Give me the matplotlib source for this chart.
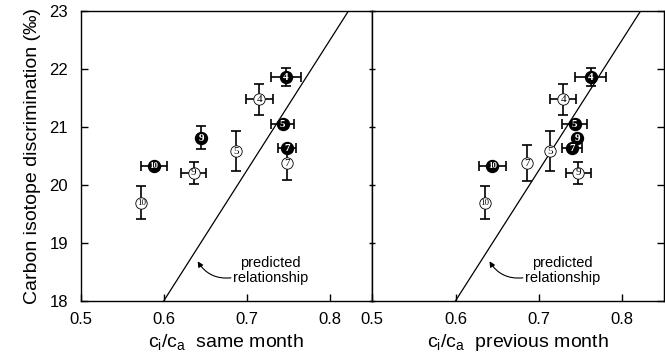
import matplotlib
matplotlib.use("Agg")
import matplotlib.pyplot as plt
import numpy as np

plt.rcParams['font.family'] = ['Liberation Sans', 'DejaVu Sans']
plt.rcParams['mathtext.fontset'] = 'custom'
plt.rcParams['mathtext.rm'] = 'Liberation Sans'
plt.rcParams['mathtext.it'] = 'Liberation Sans:italic'

# ---- data ----
labels = ['4', '4', '5', '5', '7', '7', '9', '9', '10', '10']
filled = [True, False, True, False, True, False, True, False, True, False]
delta = [21.86, 21.47, 21.04, 20.58, 20.63, 20.37, 20.81, 20.21, 20.33, 19.69]

x_same = [0.747, 0.715, 0.743, 0.687, 0.748, 0.748, 0.645, 0.636, 0.588, 0.573]
xerr_same = [0.018, 0.016, 0.014, 0.0, 0.011, 0.0, 0.0, 0.015, 0.016, 0.0]
yerr_same = [0.15, 0.27, 0.0, 0.35, 0.0, 0.29, 0.20, 0.19, 0.0, 0.28]

x_prev = [0.762, 0.729, 0.743, 0.713, 0.740, 0.686, 0.746, 0.747, 0.644, 0.635]
xerr_prev = [0.019, 0.016, 0.015, 0.0, 0.012, 0.0, 0.0, 0.015, 0.016, 0.0]
yerr_prev = [0.15, 0.27, 0.0, 0.35, 0.0, 0.31, 0.0, 0.19, 0.0, 0.28]

# predicted relationship line (endpoints)
pred_x = [0.60, 0.8222]
pred_y = [18.0, 23.0]

xticks = [0.5, 0.6, 0.7, 0.8]
xticklabels = ['0.5', '0.6', '0.7', '0.8']
yticks = [18, 19, 20, 21, 22, 23]

fig = plt.figure(figsize=(6.65, 3.57), dpi=100)
axL = fig.add_axes([0.1214, 0.1577, 0.4376, 0.8123])
axR = fig.add_axes([0.5598, 0.1577, 0.4386, 0.8123])


def draw(ax, xs, xerr, yerr, xlabel, left):
    ax.set_xlim(0.5, 0.85)
    ax.set_ylim(18, 23)
    ax.plot(pred_x, pred_y, color='black', lw=0.9, zorder=2)
    order = [i for i in range(len(xs)) if not filled[i]] + [i for i in range(len(xs)) if filled[i]]
    for i in order:
        ax.errorbar(xs[i], delta[i], xerr=xerr[i], yerr=yerr[i], fmt='none',
                    ecolor='black', elinewidth=1.2, capsize=3.6, capthick=1.2, zorder=3)
    for i in order:
        ten = labels[i] == '10'
        if filled[i]:
            ax.plot(xs[i], delta[i], 'o', ms=8.6, mfc='black', mec='black', zorder=4)
            ax.text(xs[i], delta[i] - 0.005, labels[i], color='white', ha='center', va='center',
                    fontsize=6.3 if ten else 8, fontweight='bold',
                    family='Liberation Serif', zorder=5)
        else:
            ax.plot(xs[i], delta[i], 'o', ms=8.2, mfc='white', mec='black', mew=0.6, zorder=4)
            ax.text(xs[i], delta[i] - 0.005, labels[i], color='black', ha='center', va='center',
                    fontsize=6.3 if ten else 8,
                    family='Liberation Serif', zorder=5)
    ax.annotate('', xy=(0.639, 18.72), xytext=(0.684, 18.40),
                arrowprops=dict(arrowstyle='-|>', color='black', lw=0.8,
                                mutation_scale=8,
                                connectionstyle='arc3,rad=-0.35'))
    ax.text(0.728, 18.52, 'predicted\nrelationship', ha='center', va='center',
            fontsize=10.5, linespacing=1.05)
    ax.set_xticks(xticks)
    ax.set_xticklabels(xticklabels, fontsize=12)
    ax.set_yticks(yticks)
    ax.tick_params(axis='x', direction='in', length=5, width=1, pad=8, top=False)
    if left:
        ax.set_yticklabels([str(t) for t in yticks], fontsize=12)
        ax.tick_params(axis='y', direction='in', length=5, width=1, pad=9,
                       left=True, right=False)
        ax.set_ylabel('Carbon isotope discrimination (‰)', fontsize=14, labelpad=6)
    else:
        ax.set_yticklabels([])
        ax.tick_params(axis='y', direction='in', length=2.5, width=1,
                       left=True, right=False)
    for s in ax.spines.values():
        s.set_linewidth(1.0)
    ax.set_xlabel(xlabel, fontsize=14, labelpad=4)


draw(axL, x_same, xerr_same, yerr_same, r'c$_\mathrm{i}$/c$_\mathrm{a}$  same month', True)
draw(axR, x_prev, xerr_prev, yerr_prev, r'c$_\mathrm{i}$/c$_\mathrm{a}$  previous month', False)

# inward ticks on the shared boundary and the far right spine
axL2 = axL.secondary_yaxis('right')
axL2.set_yticks(yticks)
axL2.set_yticklabels([])
axL2.tick_params(direction='in', length=2.5, width=1)
axR2 = axR.secondary_yaxis('right')
axR2.set_yticks(yticks)
axR2.set_yticklabels([])
axR2.tick_params(direction='in', length=5, width=1)

fig.savefig('out.png', dpi=100)
